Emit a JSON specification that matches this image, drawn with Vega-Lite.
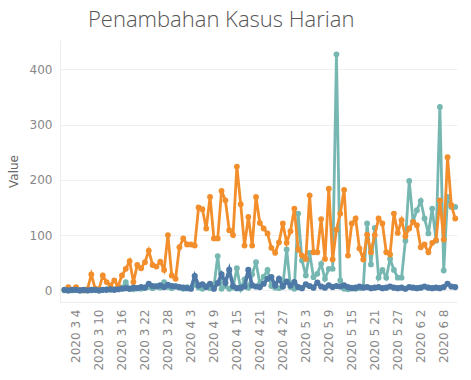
{
"$schema":"https://vega.github.io/schema/vega-lite/v6.json",
"width":397,"height":262,
"autosize":"none",
"padding":{"left":60,"top":40,"right":14,"bottom":78},
"title":{"text":"Penambahan Kasus Harian","anchor":"start","frame":"group","dx":28,"dy":22,"offset":13,"baseline":"alphabetic","font":"Open Sans","fontSize":22,"fontWeight":300,"color":"#555555"},
"data":{"values":[
{"date":"2020-03-01","series":"Sembuh","value":0},{"date":"2020-03-02","series":"Sembuh","value":0},{"date":"2020-03-03","series":"Sembuh","value":0},{"date":"2020-03-04","series":"Sembuh","value":1},{"date":"2020-03-05","series":"Sembuh","value":0},{"date":"2020-03-06","series":"Sembuh","value":0},{"date":"2020-03-07","series":"Sembuh","value":1},{"date":"2020-03-08","series":"Sembuh","value":0},{"date":"2020-03-09","series":"Sembuh","value":1},{"date":"2020-03-10","series":"Sembuh","value":0},
{"date":"2020-03-11","series":"Sembuh","value":1},{"date":"2020-03-12","series":"Sembuh","value":2},{"date":"2020-03-13","series":"Sembuh","value":1},{"date":"2020-03-14","series":"Sembuh","value":2},{"date":"2020-03-15","series":"Sembuh","value":3},{"date":"2020-03-16","series":"Sembuh","value":5},{"date":"2020-03-17","series":"Sembuh","value":15},{"date":"2020-03-18","series":"Sembuh","value":3},{"date":"2020-03-19","series":"Sembuh","value":2},{"date":"2020-03-20","series":"Sembuh","value":4},
{"date":"2020-03-21","series":"Sembuh","value":3},{"date":"2020-03-22","series":"Sembuh","value":5},{"date":"2020-03-23","series":"Sembuh","value":6},{"date":"2020-03-24","series":"Sembuh","value":4},{"date":"2020-03-25","series":"Sembuh","value":8},{"date":"2020-03-26","series":"Sembuh","value":5},{"date":"2020-03-27","series":"Sembuh","value":15},{"date":"2020-03-28","series":"Sembuh","value":6},{"date":"2020-03-29","series":"Sembuh","value":4},{"date":"2020-03-30","series":"Sembuh","value":8},
{"date":"2020-03-31","series":"Sembuh","value":5},{"date":"2020-04-01","series":"Sembuh","value":3},{"date":"2020-04-02","series":"Sembuh","value":6},{"date":"2020-04-03","series":"Sembuh","value":4},{"date":"2020-04-04","series":"Sembuh","value":10},{"date":"2020-04-05","series":"Sembuh","value":5},{"date":"2020-04-06","series":"Sembuh","value":3},{"date":"2020-04-07","series":"Sembuh","value":8},{"date":"2020-04-08","series":"Sembuh","value":4},{"date":"2020-04-09","series":"Sembuh","value":6},
{"date":"2020-04-10","series":"Sembuh","value":62},{"date":"2020-04-11","series":"Sembuh","value":3},{"date":"2020-04-12","series":"Sembuh","value":8},{"date":"2020-04-13","series":"Sembuh","value":3},{"date":"2020-04-14","series":"Sembuh","value":5},{"date":"2020-04-15","series":"Sembuh","value":40},{"date":"2020-04-16","series":"Sembuh","value":3},{"date":"2020-04-17","series":"Sembuh","value":20},{"date":"2020-04-18","series":"Sembuh","value":5},{"date":"2020-04-19","series":"Sembuh","value":29},
{"date":"2020-04-20","series":"Sembuh","value":51},{"date":"2020-04-21","series":"Sembuh","value":12},{"date":"2020-04-22","series":"Sembuh","value":25},{"date":"2020-04-23","series":"Sembuh","value":37},{"date":"2020-04-24","series":"Sembuh","value":8},{"date":"2020-04-25","series":"Sembuh","value":5},{"date":"2020-04-26","series":"Sembuh","value":4},{"date":"2020-04-27","series":"Sembuh","value":8},{"date":"2020-04-28","series":"Sembuh","value":74},{"date":"2020-04-29","series":"Sembuh","value":6},
{"date":"2020-04-30","series":"Sembuh","value":3},{"date":"2020-05-01","series":"Sembuh","value":139},{"date":"2020-05-02","series":"Sembuh","value":54},{"date":"2020-05-03","series":"Sembuh","value":27},{"date":"2020-05-04","series":"Sembuh","value":68},{"date":"2020-05-05","series":"Sembuh","value":24},{"date":"2020-05-06","series":"Sembuh","value":30},{"date":"2020-05-07","series":"Sembuh","value":48},{"date":"2020-05-08","series":"Sembuh","value":21},{"date":"2020-05-09","series":"Sembuh","value":39},
{"date":"2020-05-10","series":"Sembuh","value":39},{"date":"2020-05-11","series":"Sembuh","value":427},{"date":"2020-05-12","series":"Sembuh","value":18},{"date":"2020-05-13","series":"Sembuh","value":3},{"date":"2020-05-14","series":"Sembuh","value":2},{"date":"2020-05-15","series":"Sembuh","value":5},{"date":"2020-05-16","series":"Sembuh","value":3},{"date":"2020-05-17","series":"Sembuh","value":4},{"date":"2020-05-18","series":"Sembuh","value":6},{"date":"2020-05-19","series":"Sembuh","value":121},
{"date":"2020-05-20","series":"Sembuh","value":47},{"date":"2020-05-21","series":"Sembuh","value":113},{"date":"2020-05-22","series":"Sembuh","value":23},{"date":"2020-05-23","series":"Sembuh","value":37},{"date":"2020-05-24","series":"Sembuh","value":23},{"date":"2020-05-25","series":"Sembuh","value":57},{"date":"2020-05-26","series":"Sembuh","value":37},{"date":"2020-05-27","series":"Sembuh","value":23},{"date":"2020-05-28","series":"Sembuh","value":23},{"date":"2020-05-29","series":"Sembuh","value":90},
{"date":"2020-05-30","series":"Sembuh","value":198},{"date":"2020-05-31","series":"Sembuh","value":125},{"date":"2020-06-01","series":"Sembuh","value":145},{"date":"2020-06-02","series":"Sembuh","value":162},{"date":"2020-06-03","series":"Sembuh","value":130},{"date":"2020-06-04","series":"Sembuh","value":103},{"date":"2020-06-05","series":"Sembuh","value":148},{"date":"2020-06-06","series":"Sembuh","value":90},{"date":"2020-06-07","series":"Sembuh","value":332},{"date":"2020-06-08","series":"Sembuh","value":36},
{"date":"2020-06-09","series":"Sembuh","value":169},{"date":"2020-06-10","series":"Sembuh","value":151},{"date":"2020-06-11","series":"Sembuh","value":151},
{"date":"2020-03-01","series":"Positif","value":1},{"date":"2020-03-02","series":"Positif","value":6},{"date":"2020-03-03","series":"Positif","value":1},{"date":"2020-03-04","series":"Positif","value":6},{"date":"2020-03-05","series":"Positif","value":1},{"date":"2020-03-06","series":"Positif","value":0},{"date":"2020-03-07","series":"Positif","value":2},{"date":"2020-03-08","series":"Positif","value":29},{"date":"2020-03-09","series":"Positif","value":3},{"date":"2020-03-10","series":"Positif","value":2},
{"date":"2020-03-11","series":"Positif","value":27},{"date":"2020-03-12","series":"Positif","value":15},{"date":"2020-03-13","series":"Positif","value":9},{"date":"2020-03-14","series":"Positif","value":18},{"date":"2020-03-15","series":"Positif","value":8},{"date":"2020-03-16","series":"Positif","value":27},{"date":"2020-03-17","series":"Positif","value":39},{"date":"2020-03-18","series":"Positif","value":53},{"date":"2020-03-19","series":"Positif","value":15},{"date":"2020-03-20","series":"Positif","value":46},
{"date":"2020-03-21","series":"Positif","value":40},{"date":"2020-03-22","series":"Positif","value":51},{"date":"2020-03-23","series":"Positif","value":72},{"date":"2020-03-24","series":"Positif","value":46},{"date":"2020-03-25","series":"Positif","value":43},{"date":"2020-03-26","series":"Positif","value":52},{"date":"2020-03-27","series":"Positif","value":37},{"date":"2020-03-28","series":"Positif","value":100},{"date":"2020-03-29","series":"Positif","value":27},{"date":"2020-03-30","series":"Positif","value":21},
{"date":"2020-03-31","series":"Positif","value":78},{"date":"2020-04-01","series":"Positif","value":94},{"date":"2020-04-02","series":"Positif","value":83},{"date":"2020-04-03","series":"Positif","value":83},{"date":"2020-04-04","series":"Positif","value":81},{"date":"2020-04-05","series":"Positif","value":150},{"date":"2020-04-06","series":"Positif","value":147},{"date":"2020-04-07","series":"Positif","value":112},{"date":"2020-04-08","series":"Positif","value":169},{"date":"2020-04-09","series":"Positif","value":94},
{"date":"2020-04-10","series":"Positif","value":94},{"date":"2020-04-11","series":"Positif","value":180},{"date":"2020-04-12","series":"Positif","value":163},{"date":"2020-04-13","series":"Positif","value":109},{"date":"2020-04-14","series":"Positif","value":100},{"date":"2020-04-15","series":"Positif","value":224},{"date":"2020-04-16","series":"Positif","value":156},{"date":"2020-04-17","series":"Positif","value":81},{"date":"2020-04-18","series":"Positif","value":133},{"date":"2020-04-19","series":"Positif","value":81},
{"date":"2020-04-20","series":"Positif","value":169},{"date":"2020-04-21","series":"Positif","value":122},{"date":"2020-04-22","series":"Positif","value":112},{"date":"2020-04-23","series":"Positif","value":103},{"date":"2020-04-24","series":"Positif","value":77},{"date":"2020-04-25","series":"Positif","value":68},{"date":"2020-04-26","series":"Positif","value":87},{"date":"2020-04-27","series":"Positif","value":121},{"date":"2020-04-28","series":"Positif","value":86},{"date":"2020-04-29","series":"Positif","value":107},
{"date":"2020-04-30","series":"Positif","value":148},{"date":"2020-05-01","series":"Positif","value":74},{"date":"2020-05-02","series":"Positif","value":63},{"date":"2020-05-03","series":"Positif","value":57},{"date":"2020-05-04","series":"Positif","value":172},{"date":"2020-05-05","series":"Positif","value":69},{"date":"2020-05-06","series":"Positif","value":69},{"date":"2020-05-07","series":"Positif","value":129},{"date":"2020-05-08","series":"Positif","value":57},{"date":"2020-05-09","series":"Positif","value":184},
{"date":"2020-05-10","series":"Positif","value":56},{"date":"2020-05-11","series":"Positif","value":110},{"date":"2020-05-12","series":"Positif","value":139},{"date":"2020-05-13","series":"Positif","value":182},{"date":"2020-05-14","series":"Positif","value":63},{"date":"2020-05-15","series":"Positif","value":121},{"date":"2020-05-16","series":"Positif","value":130},{"date":"2020-05-17","series":"Positif","value":76},{"date":"2020-05-18","series":"Positif","value":56},{"date":"2020-05-19","series":"Positif","value":101},
{"date":"2020-05-20","series":"Positif","value":69},{"date":"2020-05-21","series":"Positif","value":100},{"date":"2020-05-22","series":"Positif","value":130},{"date":"2020-05-23","series":"Positif","value":121},{"date":"2020-05-24","series":"Positif","value":69},{"date":"2020-05-25","series":"Positif","value":65},{"date":"2020-05-26","series":"Positif","value":139},{"date":"2020-05-27","series":"Positif","value":104},{"date":"2020-05-28","series":"Positif","value":127},{"date":"2020-05-29","series":"Positif","value":98},
{"date":"2020-05-30","series":"Positif","value":112},{"date":"2020-05-31","series":"Positif","value":124},{"date":"2020-06-01","series":"Positif","value":118},{"date":"2020-06-02","series":"Positif","value":78},{"date":"2020-06-03","series":"Positif","value":83},{"date":"2020-06-04","series":"Positif","value":69},{"date":"2020-06-05","series":"Positif","value":86},{"date":"2020-06-06","series":"Positif","value":91},{"date":"2020-06-07","series":"Positif","value":163},{"date":"2020-06-08","series":"Positif","value":92},
{"date":"2020-06-09","series":"Positif","value":241},{"date":"2020-06-10","series":"Positif","value":154},{"date":"2020-06-11","series":"Positif","value":130},
{"date":"2020-03-01","series":"Meninggal","value":1},{"date":"2020-03-02","series":"Meninggal","value":0},{"date":"2020-03-03","series":"Meninggal","value":1},{"date":"2020-03-04","series":"Meninggal","value":1},{"date":"2020-03-05","series":"Meninggal","value":0},{"date":"2020-03-06","series":"Meninggal","value":1},{"date":"2020-03-07","series":"Meninggal","value":0},{"date":"2020-03-08","series":"Meninggal","value":1},{"date":"2020-03-09","series":"Meninggal","value":1},{"date":"2020-03-10","series":"Meninggal","value":0},
{"date":"2020-03-11","series":"Meninggal","value":1},{"date":"2020-03-12","series":"Meninggal","value":1},{"date":"2020-03-13","series":"Meninggal","value":2},{"date":"2020-03-14","series":"Meninggal","value":1},{"date":"2020-03-15","series":"Meninggal","value":2},{"date":"2020-03-16","series":"Meninggal","value":3},{"date":"2020-03-17","series":"Meninggal","value":4},{"date":"2020-03-18","series":"Meninggal","value":3},{"date":"2020-03-19","series":"Meninggal","value":5},{"date":"2020-03-20","series":"Meninggal","value":4},
{"date":"2020-03-21","series":"Meninggal","value":6},{"date":"2020-03-22","series":"Meninggal","value":5},{"date":"2020-03-23","series":"Meninggal","value":12},{"date":"2020-03-24","series":"Meninggal","value":8},{"date":"2020-03-25","series":"Meninggal","value":7},{"date":"2020-03-26","series":"Meninggal","value":9},{"date":"2020-03-27","series":"Meninggal","value":6},{"date":"2020-03-28","series":"Meninggal","value":10},{"date":"2020-03-29","series":"Meninggal","value":8},{"date":"2020-03-30","series":"Meninggal","value":7},
{"date":"2020-03-31","series":"Meninggal","value":6},{"date":"2020-04-01","series":"Meninggal","value":5},{"date":"2020-04-02","series":"Meninggal","value":4},{"date":"2020-04-03","series":"Meninggal","value":3},{"date":"2020-04-04","series":"Meninggal","value":26},{"date":"2020-04-05","series":"Meninggal","value":9},{"date":"2020-04-06","series":"Meninggal","value":11},{"date":"2020-04-07","series":"Meninggal","value":6},{"date":"2020-04-08","series":"Meninggal","value":12},{"date":"2020-04-09","series":"Meninggal","value":3},
{"date":"2020-04-10","series":"Meninggal","value":13},{"date":"2020-04-11","series":"Meninggal","value":29},{"date":"2020-04-12","series":"Meninggal","value":14},{"date":"2020-04-13","series":"Meninggal","value":37},{"date":"2020-04-14","series":"Meninggal","value":8},{"date":"2020-04-15","series":"Meninggal","value":4},{"date":"2020-04-16","series":"Meninggal","value":5},{"date":"2020-04-17","series":"Meninggal","value":7},{"date":"2020-04-18","series":"Meninggal","value":37},{"date":"2020-04-19","series":"Meninggal","value":9},
{"date":"2020-04-20","series":"Meninggal","value":7},{"date":"2020-04-21","series":"Meninggal","value":6},{"date":"2020-04-22","series":"Meninggal","value":12},{"date":"2020-04-23","series":"Meninggal","value":21},{"date":"2020-04-24","series":"Meninggal","value":24},{"date":"2020-04-25","series":"Meninggal","value":9},{"date":"2020-04-26","series":"Meninggal","value":21},{"date":"2020-04-27","series":"Meninggal","value":7},{"date":"2020-04-28","series":"Meninggal","value":16},{"date":"2020-04-29","series":"Meninggal","value":9},
{"date":"2020-04-30","series":"Meninggal","value":15},{"date":"2020-05-01","series":"Meninggal","value":6},{"date":"2020-05-02","series":"Meninggal","value":4},{"date":"2020-05-03","series":"Meninggal","value":11},{"date":"2020-05-04","series":"Meninggal","value":8},{"date":"2020-05-05","series":"Meninggal","value":5},{"date":"2020-05-06","series":"Meninggal","value":14},{"date":"2020-05-07","series":"Meninggal","value":7},{"date":"2020-05-08","series":"Meninggal","value":5},{"date":"2020-05-09","series":"Meninggal","value":9},
{"date":"2020-05-10","series":"Meninggal","value":6},{"date":"2020-05-11","series":"Meninggal","value":8},{"date":"2020-05-12","series":"Meninggal","value":7},{"date":"2020-05-13","series":"Meninggal","value":9},{"date":"2020-05-14","series":"Meninggal","value":6},{"date":"2020-05-15","series":"Meninggal","value":4},{"date":"2020-05-16","series":"Meninggal","value":5},{"date":"2020-05-17","series":"Meninggal","value":7},{"date":"2020-05-18","series":"Meninggal","value":5},{"date":"2020-05-19","series":"Meninggal","value":6},
{"date":"2020-05-20","series":"Meninggal","value":4},{"date":"2020-05-21","series":"Meninggal","value":5},{"date":"2020-05-22","series":"Meninggal","value":6},{"date":"2020-05-23","series":"Meninggal","value":4},{"date":"2020-05-24","series":"Meninggal","value":5},{"date":"2020-05-25","series":"Meninggal","value":7},{"date":"2020-05-26","series":"Meninggal","value":5},{"date":"2020-05-27","series":"Meninggal","value":4},{"date":"2020-05-28","series":"Meninggal","value":5},{"date":"2020-05-29","series":"Meninggal","value":3},
{"date":"2020-05-30","series":"Meninggal","value":6},{"date":"2020-05-31","series":"Meninggal","value":5},{"date":"2020-06-01","series":"Meninggal","value":4},{"date":"2020-06-02","series":"Meninggal","value":5},{"date":"2020-06-03","series":"Meninggal","value":7},{"date":"2020-06-04","series":"Meninggal","value":5},{"date":"2020-06-05","series":"Meninggal","value":4},{"date":"2020-06-06","series":"Meninggal","value":5},{"date":"2020-06-07","series":"Meninggal","value":4},{"date":"2020-06-08","series":"Meninggal","value":6},
{"date":"2020-06-09","series":"Meninggal","value":12},{"date":"2020-06-10","series":"Meninggal","value":7},{"date":"2020-06-11","series":"Meninggal","value":6}
]},
"encoding":{
"x":{"field":"date","type":"temporal","scale":{"type":"utc","domain":[1582919280000,1591874208000],"nice":false},
"axis":{"title":null,"values":[{"year":2020,"month":3,"date":4,"utc":true},{"year":2020,"month":3,"date":10,"utc":true},{"year":2020,"month":3,"date":16,"utc":true},{"year":2020,"month":3,"date":22,"utc":true},{"year":2020,"month":3,"date":28,"utc":true},{"year":2020,"month":4,"date":3,"utc":true},{"year":2020,"month":4,"date":9,"utc":true},{"year":2020,"month":4,"date":15,"utc":true},{"year":2020,"month":4,"date":21,"utc":true},{"year":2020,"month":4,"date":27,"utc":true},{"year":2020,"month":5,"date":3,"utc":true},{"year":2020,"month":5,"date":9,"utc":true},{"year":2020,"month":5,"date":15,"utc":true},{"year":2020,"month":5,"date":21,"utc":true},{"year":2020,"month":5,"date":27,"utc":true},{"year":2020,"month":6,"date":2,"utc":true},{"year":2020,"month":6,"date":8,"utc":true}],
"labelExpr":"utcFormat(datum.value, '%Y %-m %-d')","labelAngle":-90,"labelPadding":7,"ticks":false,"grid":false,"domainColor":"#ececec","labelColor":"#888888","labelFontSize":12,"labelFont":"DejaVu Sans","labelOverlap":false,"labelFlush":false}},
"y":{"field":"value","type":"quantitative","scale":{"domain":[-21,453],"nice":false,"zero":false},
"axis":{"title":"Value","values":[0,100,200,300,400],"grid":true,"gridColor":"#f0f0f0","domainColor":"#ececec","ticks":false,"labelPadding":8,"labelColor":"#888888","labelFontSize":12,"labelFont":"DejaVu Sans","titleFont":"DejaVu Sans","titleFontSize":12,"titleFontWeight":"normal","titleColor":"#666666","titlePadding":9}},
"color":{"field":"series","type":"nominal","scale":{"domain":["Positif","Sembuh","Meninggal"],"range":["#F28E2B","#76B7B2","#4E79A7"]},"legend":null}
},
"layer":[
{"transform":[{"filter":"datum.series === 'Sembuh'"}],"mark":{"type":"line","strokeWidth":2.8,"point":{"filled":true,"size":34,"opacity":1}}},
{"transform":[{"filter":"datum.series === 'Positif'"}],"mark":{"type":"line","strokeWidth":2.8,"point":{"filled":true,"size":34,"opacity":1}}},
{"transform":[{"filter":"datum.series === 'Meninggal'"}],"mark":{"type":"line","strokeWidth":3.6,"point":{"filled":true,"size":38,"opacity":1}}}
],
"config":{"view":{"stroke":null}}
}
